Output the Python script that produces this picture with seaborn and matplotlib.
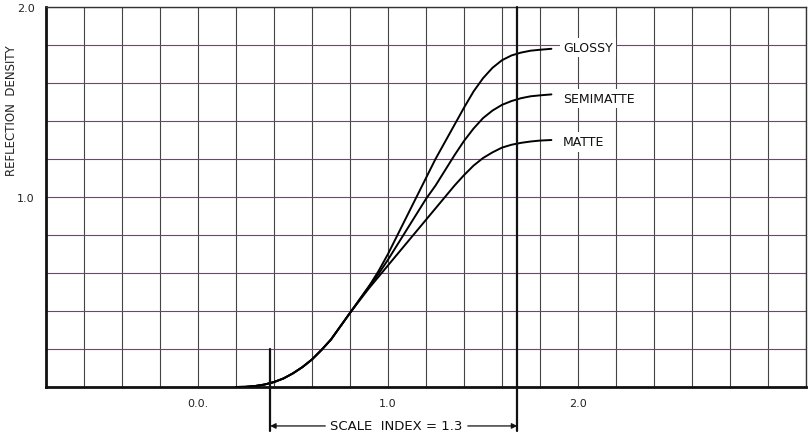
import numpy as np
import pandas as pd
import seaborn as sns
import matplotlib.pyplot as plt

# scale index readings along the curve (x axis)
scale_x = [0.2, 0.25, 0.3, 0.35, 0.4, 0.45, 0.5, 0.55, 0.6, 0.65, 0.7, 0.75,
           0.8, 0.85, 0.9, 0.95, 1.0, 1.05, 1.1, 1.15, 1.2, 1.25, 1.3, 1.35,
           1.4, 1.45, 1.5, 1.55, 1.6, 1.65, 1.7, 1.75, 1.8, 1.86]

# shared toe of the curves (0.2 .. 0.8)
toe = [0.0, 0.001, 0.005, 0.013, 0.026, 0.045, 0.072, 0.105, 0.145, 0.195,
       0.25, 0.32, 0.39]

# reflection density for each paper surface
glossy = toe + [0.46, 0.53, 0.61, 0.70, 0.80, 0.90, 1.00, 1.10, 1.20, 1.29,
                1.38, 1.47, 1.555, 1.625, 1.68, 1.72, 1.745, 1.76, 1.77,
                1.775, 1.78]
semimatte = toe + [0.46, 0.53, 0.595, 0.67, 0.75, 0.83, 0.91, 0.99, 1.06,
                   1.14, 1.22, 1.295, 1.36, 1.415, 1.455, 1.485, 1.505, 1.52,
                   1.53, 1.535, 1.54]
matte = toe + [0.455, 0.52, 0.58, 0.64, 0.70, 0.76, 0.82, 0.88, 0.94, 1.00,
               1.06, 1.115, 1.165, 1.205, 1.235, 1.26, 1.275, 1.285, 1.292,
               1.297, 1.30]

finishes = ['GLOSSY', 'SEMIMATTE', 'MATTE']
label_y = [1.785, 1.52, 1.29]

x_labels = ['0.0.', '1.0', '2.0']
y_labels = ['1.0', '2.0']

# scale index limits
index_start = 0.38
index_end = 1.68

df = pd.DataFrame({
    'x': scale_x * 3,
    'density': glossy + semimatte + matte,
    'finish': np.repeat(finishes, len(scale_x)),
})

sns.set_style('white')
fig = plt.figure(figsize=(8.08, 4.35), dpi=100)
ax = fig.add_axes([46 / 808, 47 / 435, 760 / 808, 380 / 435])

sns.lineplot(data=df, x='x', y='density', hue='finish',
             palette=['black'] * 3, linewidth=1.4, legend=False,
             sort=False, ax=ax, zorder=3)

ax.set_xlim(-0.8, 3.2)
ax.set_ylim(0, 2.0)

# grid every 0.2
ax.set_xticks(np.arange(-0.8, 3.21, 0.2), minor=True)
ax.set_yticks(np.arange(0, 2.01, 0.2), minor=True)
ax.set_xticks([0, 1, 2])
ax.set_xticklabels(x_labels)
ax.set_yticks([1, 2])
ax.set_yticklabels(y_labels)
ax.xaxis.grid(True, which='both', color='#444444', linewidth=0.8, zorder=1)
ax.yaxis.grid(True, which='both', color='#6a4a6c', linewidth=0.8, zorder=1)
ax.set_axisbelow(True)
ax.tick_params(which='both', length=0)
ax.tick_params(axis='x', labelsize=8, pad=8, colors='#222222')
ax.tick_params(axis='y', labelsize=8, pad=8, colors='#222222')

for side in ['left', 'bottom']:
    ax.spines[side].set_linewidth(2)
    ax.spines[side].set_color('#111111')
for side in ['top', 'right']:
    ax.spines[side].set_linewidth(1)
    ax.spines[side].set_color('#333333')

ax.set_xlabel('')
ax.set_ylabel('REFLECTION  DENSITY', fontsize=8.5, color='#222222')
ax.yaxis.set_label_coords(-0.037, 0.73)

# curve labels
for name, yy in zip(finishes, label_y):
    ax.text(1.92, yy, name, fontsize=9, color='#111111', va='center',
            ha='left', zorder=4,
            bbox=dict(boxstyle='square,pad=0.25', fc='white', ec='none'))

# scale index markers
ax.plot([index_start, index_start], [0.2, -0.23], color='#111111',
        linewidth=1.6, clip_on=False, zorder=3)
ax.plot([index_end, index_end], [2.0, -0.23], color='#111111',
        linewidth=1.6, clip_on=False, zorder=3)
ax.annotate('', xy=(index_start, -0.205), xytext=(0.67, -0.205),
            arrowprops=dict(arrowstyle='-|>', color='#111111', lw=0.9,
                            mutation_scale=8, shrinkA=0, shrinkB=0),
            annotation_clip=False)
ax.annotate('', xy=(index_end, -0.205), xytext=(1.42, -0.205),
            arrowprops=dict(arrowstyle='-|>', color='#111111', lw=0.9,
                            mutation_scale=8, shrinkA=0, shrinkB=0),
            annotation_clip=False)
ax.text((index_start + index_end) / 2 + 0.015, -0.205, 'SCALE  INDEX = 1.3',
        fontsize=9.5, color='#111111', ha='center', va='center',
        clip_on=False)

fig.savefig('out.png', dpi=100)
